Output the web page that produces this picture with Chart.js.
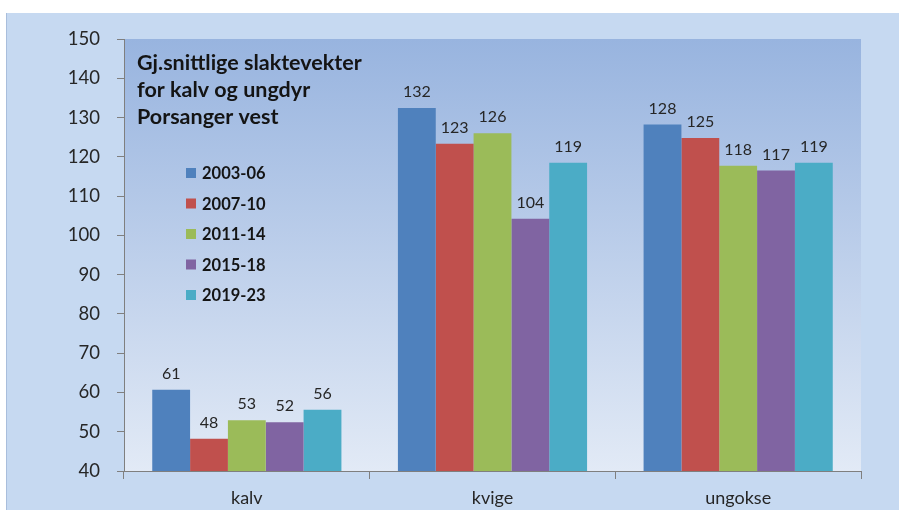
<!DOCTYPE html>
<html>
<head>
<meta charset="utf-8">
<script src="https://cdn.jsdelivr.net/npm/chart.js@4.4.0/dist/chart.umd.min.js"></script>
<style>
  html, body { margin: 0; padding: 0; background: #ffffff; }
  #wrap { width: 899px; height: 510px; }
</style>
</head>
<body>
<div id="wrap"><canvas id="graf" width="899" height="510"></canvas></div>
<script>
// data
const kategorier = ['kalv', 'kvige', 'ungokse'];
const perioder = ['2003-06', '2007-10', '2011-14', '2015-18', '2019-23'];
const farger = ['#4F81BD', '#C0504D', '#9BBB59', '#8064A2', '#4BACC6'];
const vekt2003 = [60.7, 132.4, 128.2];
const vekt2007 = [48.2, 123.3, 124.8];
const vekt2011 = [52.9, 126.0, 117.7];
const vekt2015 = [52.4, 104.2, 116.5];
const vekt2019 = [55.6, 118.5, 118.5];
const tittel = ['Gj.snittlige slaktevekter', 'for kalv og ungdyr', 'Porsanger vest'];
const yMin = 40, yMax = 150, ySteg = 10;

const serier = [vekt2003, vekt2007, vekt2011, vekt2015, vekt2019];
const fontFam = 'Lato, "Open Sans", sans-serif';

// bakgrunn, tittel, legende og verdier
const pynt = {
  id: 'pynt',
  beforeDraw(chart) {
    const c = chart.ctx;
    const a = chart.chartArea;
    c.save();
    c.fillStyle = '#ffffff';
    c.fillRect(0, 0, chart.width, chart.height);
    c.fillStyle = '#C6D9F1';
    c.fillRect(6, 13, chart.width - 6, chart.height - 13);
    c.fillStyle = '#A9BEDC';
    c.fillRect(6, 13, 1, chart.height - 13);
    const g = c.createLinearGradient(0, a.top, 0, a.bottom);
    g.addColorStop(0, '#98B4DF');
    g.addColorStop(1, '#E2EAF6');
    c.fillStyle = g;
    c.fillRect(a.left, a.top, a.right - a.left, a.bottom - a.top);
    c.restore();
  },
  afterDatasetsDraw(chart) {
    const c = chart.ctx;
    c.save();
    // verdier over stolpene
    c.font = '16px ' + fontFam;
    c.fillStyle = '#262626';
    c.textAlign = 'center';
    c.textBaseline = 'bottom';
    chart.data.datasets.forEach((ds, i) => {
      chart.getDatasetMeta(i).data.forEach((bar, j) => {
        c.fillText(Math.round(ds.data[j]), bar.x, bar.y - 8);
      });
    });
    // tittel
    c.font = 'bold 21.5px ' + fontFam;
    c.fillStyle = '#141414';
    c.textAlign = 'left';
    c.textBaseline = 'middle';
    tittel.forEach((linje, i) => c.fillText(linje, 137, 63 + i * 27));
    // legende
    c.font = 'bold 16.5px ' + fontFam;
    chart.data.datasets.forEach((ds, i) => {
      const y = 173 + i * 30.5;
      c.fillStyle = ds.backgroundColor;
      c.fillRect(186, y - 5, 10, 10);
      c.fillStyle = '#141414';
      c.fillText(ds.label, 202, y + 1);
    });
    c.restore();
  }
};

const ctx = document.getElementById('graf').getContext('2d');
const graf = new Chart(ctx, {
  type: 'bar',
  data: {
    labels: kategorier,
    datasets: perioder.map((p, i) => ({
      label: p,
      data: serier[i],
      backgroundColor: farger[i],
      borderWidth: 0,
      categoryPercentage: 0.77,
      barPercentage: 1.0
    }))
  },
  options: {
    responsive: false,
    animation: false,
    layout: { padding: { top: 39, right: 38, left: 0, bottom: 0 } },
    plugins: {
      legend: { display: false },
      tooltip: { enabled: false }
    },
    scales: {
      x: {
        grid: { offset: true, drawOnChartArea: false, drawTicks: true, tickLength: 8, color: '#7F7F7F' },
        border: { color: '#7F7F7F', width: 1 },
        ticks: { color: '#262626', font: { size: 18, family: fontFam }, padding: 8 },
        afterFit(s) { s.height = 39; }
      },
      y: {
        min: yMin,
        max: yMax,
        ticks: { stepSize: ySteg, color: '#262626', font: { size: 18.5, family: fontFam }, padding: 17 },
        grid: { drawOnChartArea: false, drawTicks: true, tickLength: 7, color: '#7F7F7F' },
        border: { color: '#7F7F7F', width: 1 },
        afterFit(s) { s.width = 124; }
      }
    }
  },
  plugins: [pynt]
});
</script>
</body>
</html>
